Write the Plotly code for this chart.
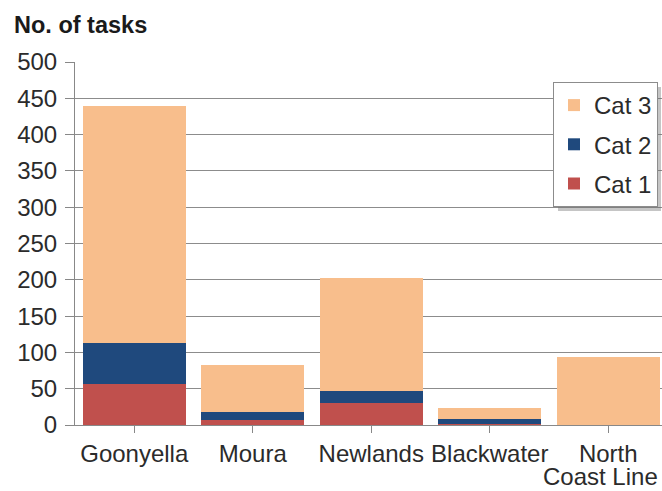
import plotly.graph_objects as go

# Task counts per region, split by category
regions = ["Goonyella", "Moura", "Newlands", "Blackwater", "North Coast Line"]
cat1 = [57, 7, 30, 1, 0]
cat2 = [56, 11, 17, 7, 0]
cat3 = [326, 65, 156, 16, 94]
y_ticks = [0, 50, 100, 150, 200, 250, 300, 350, 400, 450, 500]

colors = {"Cat 1": "#C0504D", "Cat 2": "#1F497D", "Cat 3": "#F8BE8C"}
ranks = {"Cat 1": 3, "Cat 2": 2, "Cat 3": 1}

fig = go.Figure()
for name, vals in [("Cat 1", cat1), ("Cat 2", cat2), ("Cat 3", cat3)]:
    fig.add_trace(go.Bar(
        x=list(range(len(regions))), y=vals, name=name,
        marker=dict(color=colors[name], line=dict(width=0)),
        legendgroup=name, legendrank=ranks[name],
    ))

W, H = 662, 491
ml, mr, mt, mb = 75, 0, 62, 66
plot_w = W - ml - mr
plot_h = H - mt - mb
cat_px = 118.5

family = "Liberation Sans, Arial, sans-serif"
text_color = "#2b2b2b"
font = dict(family=family, size=24, color=text_color)

# Long category names wrap onto a second line, set tighter than the
# default line spacing so it fits above the bottom edge.
first_lines, extra_labels = [], []
for i, r in enumerate(regions):
    words = r.split(" ")
    if len(words) > 2:
        first_lines.append(words[0])
        extra_labels.append(dict(
            text=" ".join(words[1:]), x=i, xref="x", yref="paper",
            y=(425 - 476) / plot_h, xanchor="center", yanchor="middle",
            xshift=-8, showarrow=False, font=font, borderpad=0,
        ))
    else:
        first_lines.append(r)

# legend box in pixels (left, top, right, bottom)
lg = (553, 82, 656, 206)

fig.update_layout(
    width=W, height=H,
    margin=dict(l=ml, r=mr, t=mt, b=mb, pad=0, autoexpand=False),
    barmode="stack", bargap=0.13,
    plot_bgcolor="white", paper_bgcolor="white",
    font=font,
    showlegend=True,
    legend=dict(
        x=(lg[0] - ml) / plot_w, y=(H - mb - lg[1]) / plot_h,
        xanchor="left", yanchor="top",
        traceorder="grouped", tracegroupgap=5,
        bgcolor="white", bordercolor="#8c8c8c", borderwidth=1,
        font=dict(family=family, size=24, color=text_color),
        itemwidth=30,
    ),
    xaxis=dict(
        range=[-0.5, -0.5 + plot_w / cat_px],
        tickmode="array", tickvals=list(range(len(regions))), ticktext=first_lines,
        tickson="boundaries", ticks="outside", ticklen=7, tickcolor="#888888",
        showline=True, linecolor="#888888", linewidth=1,
        showgrid=False, zeroline=False, ticklabelstandoff=0,
        automargin=False, ticklabeloverflow="allow",
    ),
    yaxis=dict(
        range=[0, 500], tickmode="array", tickvals=y_ticks,
        ticks="outside", ticklen=9, tickcolor="#888888",
        showline=True, linecolor="#888888", linewidth=1,
        showgrid=True, gridcolor="#8c8c8c", gridwidth=1,
        zeroline=False, ticklabelstandoff=3, automargin=False,
        ticklabeloverflow="allow",
    ),
    annotations=[dict(
        text="<b>No. of tasks</b>", xref="paper", yref="paper",
        x=-(ml - 12) / plot_w, y=1 + (mt - 10) / plot_h,
        xanchor="left", yanchor="top", showarrow=False,
        font=dict(family=family, size=23.5, color="#1a1a1a"),
    )] + extra_labels,
    shapes=[dict(
        type="rect", xref="paper", yref="paper", layer="above",
        x0=(lg[0] + 5 - ml) / plot_w, x1=(lg[2] + 5 - ml) / plot_w,
        y0=(H - mb - lg[3] - 5) / plot_h, y1=(H - mb - lg[1] - 5) / plot_h,
        fillcolor="rgba(110,110,110,0.4)", line=dict(width=0),
    )],
)

fig.write_html("out.html")
